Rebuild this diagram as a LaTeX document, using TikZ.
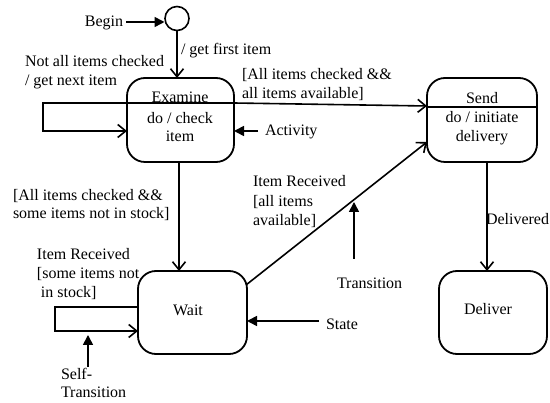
\documentclass[tikz,border=0pt]{standalone}
\usepackage{fontspec}
\setmainfont{Liberation Serif}
\usetikzlibrary{arrows.meta,calc}
\begin{document}
\begin{tikzpicture}[x=1pt,y=-1pt,
  every node/.style={font=\fontsize{16}{18.5}\selectfont, inner sep=0pt, outer sep=0pt},
  statebox/.style={draw, line width=1.8pt, rounded corners=18pt, minimum height=84pt},
  lbl/.style={align=left, anchor=west},
  trans/.style={line width=1.6pt, -{Straight Barb[length=8pt,width=13pt]}},
  note/.style={line width=1.6pt, -{Triangle[length=10pt,width=10pt]}}
]
\useasboundingbox (0,0) rectangle (550,403);

% initial pseudo-state
\node[draw, circle, line width=1.6pt, minimum size=24pt] (init) at (177,18.5) {};

% states
\node[statebox, minimum width=107pt] (examine) at (180.5,120) {};
\node[statebox, minimum width=110pt] (send) at (482,120) {};
\node[statebox, minimum width=109pt, minimum height=83pt] (wait) at (192.5,312.5) {};
\node[statebox, minimum width=108pt, minimum height=83pt] (deliver) at (493,312.5) {};

% state contents
\node (exname) at (180,97) {Examine};
\node[align=center] (exact) at (180,127) {do / check\\item};
\node (sdname) at (482,98) {Send};
\node[align=center] (sdact) at (482,128) {do / initiate\\delivery};
\node (wtname) at (188,310) {Wait};
\node (dlname) at (488,309) {Deliver};

% compartment dividers
\draw[line width=1.6pt] (examine.west |- 0,103) -- (examine.east |- 0,103);
\draw[line width=1.6pt] (send.west |- 0,107) -- (send.east |- 0,107);

% transition labels
\node[lbl] (first) at (181,51) {/ get first item};
\node[lbl] (next) at (25,72) {Not all items checked\\/ get next item};
\node[lbl] (allavail) at (242,84.5) {{[}All items checked \&\&\\all items available{]}};
\node[lbl] (notstock) at (13,205) {{[}All items checked \&\&\\some items not in stock{]}};
\node[lbl, font=\fontsize{16}{19.5}\selectfont] (recall) at (253,202) {Item Received\\{[}all items\\available{]}};
\node[lbl, font=\fontsize{16}{19}\selectfont] (recsome) at (37,274) {Item Received\\{[}some items not\\\hspace*{4pt}in stock{]}};
\node[lbl] (delivered) at (486,219) {Delivered};

% annotation labels
\node (begin) at (104,23) {Begin};
\node[lbl] (activity) at (265,132) {Activity};
\node[lbl] (transition) at (337,283) {Transition};
\node[lbl] (state) at (326,324) {State};
\node[lbl] (selftr) at (61,383) {Self-\\Transition};

% transitions
\draw[trans] (init.south) -- (init.south |- examine.north);
\draw[trans] (examine.east |- 0,103) -- (send.west |- 0,106);
\draw[trans] (examine.south -| 179,0) -- (179,0 |- wait.north);
\coordinate (diagstart) at (246,285);
\coordinate (diagend) at (427,142);
\draw[trans] (diagstart) -- (diagend);
\draw[trans] (send.south -| 487,0) -- (487,0 |- deliver.north);
% self-transitions
\draw[trans] (examine.west |- 0,103) -- (43,103) -- (43,131) -- (examine.west |- 0,131);
\draw[trans] (wait.west |- 0,307) -- (55,307) -- (55,331) -- (wait.west |- 0,331);

% annotation pointers
\draw[note] (begin.east) ++(3,-1) -- (164.5,22);
\draw[note] (activity.west) ++(-7,-1) -- (examine.east |- 0,131);
\coordinate (trfoot) at (354,259);
\coordinate (trtip) at (354,202);
\draw[note] (trfoot) -- (trtip);
\draw[note] (state.west) ++(-7,-3) -- (wait.east |- 0,321);
\coordinate (stfoot) at (88,367);
\coordinate (sttip) at (88,335);
\draw[note] (stfoot) -- (sttip);
\end{tikzpicture}
\end{document}
